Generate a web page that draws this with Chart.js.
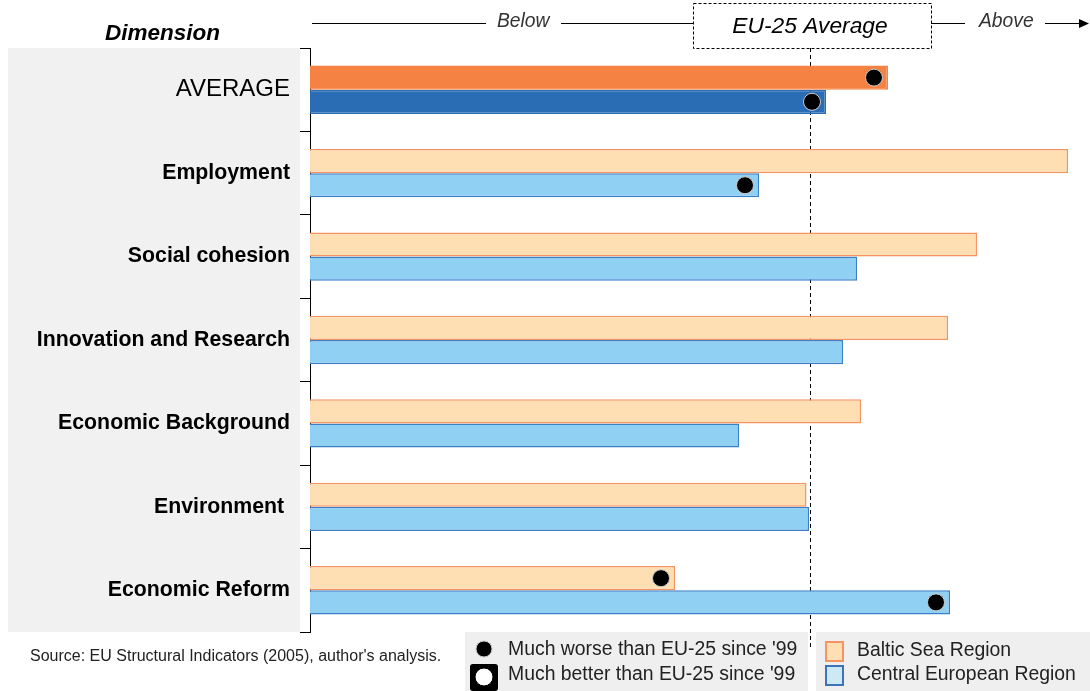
<!DOCTYPE html>
<html>
<head>
<meta charset="utf-8">
<script src="https://cdn.jsdelivr.net/npm/chart.js@4"></script>
<style>
  html, body { margin: 0; padding: 0; background: #fff; }
  #wrap { position: relative; width: 1090px; height: 691px; }
</style>
</head>
<body>
<div id="wrap"><canvas id="chart"></canvas></div>
<script>
// index values, EU-25 average = 100
const DIMENSIONS = ['AVERAGE', 'Employment', 'Social cohesion', 'Innovation and Research', 'Economic Background', 'Environment ', 'Economic Reform'];
const BALTIC = [115.6, 151.6, 133.4, 127.6, 110.2, 99.3, 73.0];
const CENTRAL = [103.2, 89.8, 109.4, 106.6, 85.8, 99.8, 128.0];
// trend since '99 vs EU-25 ('worse' / 'better' / null)
const BALTIC_TREND = ['worse', null, null, null, null, null, 'worse'];
const CENTRAL_TREND = ['worse', 'worse', null, null, null, null, 'worse'];
const EU_AVG = 100;
const X_MAX = 155;

const COL = {
  balticAvg: '#F58142', centralAvg: '#2B6DB5',
  balticFill: '#FDDFB3', balticLine: '#F59462',
  centralFill: '#8FD0F3', centralLine: '#3D7FC6',
};

const FONT = "'Liberation Sans', Arial, sans-serif";
Chart.defaults.font.family = FONT;

function drawDot(ctx, x, y, r, better) {
  ctx.beginPath();
  ctx.arc(x, y, r, 0, Math.PI * 2);
  ctx.fillStyle = better ? '#fff' : '#000';
  ctx.fill();
  ctx.lineWidth = 1;
  ctx.strokeStyle = better ? '#000' : '#ccc';
  ctx.stroke();
}

const decor = {
  id: 'decor',
  beforeDraw(chart) {
    const { ctx, chartArea: a } = chart;
    ctx.save();
    ctx.fillStyle = '#F1F1F1';
    ctx.fillRect(8, a.top, 292, a.bottom - a.top);
    ctx.restore();
  },
  beforeDatasetsDraw(chart) {
    const { ctx } = chart;
    const x = Math.round(chart.scales.x.getPixelForValue(EU_AVG)) + 0.5;
    ctx.save();
    ctx.strokeStyle = '#000';
    ctx.lineWidth = 1;
    ctx.setLineDash([4, 3]);
    ctx.beginPath();
    ctx.moveTo(x, 48);
    ctx.lineTo(x, 650);
    ctx.stroke();
    ctx.restore();
  },
  afterDatasetsDraw(chart) {
    const { ctx } = chart;
    [BALTIC_TREND, CENTRAL_TREND].forEach((trend, di) => {
      const meta = chart.getDatasetMeta(di);
      trend.forEach((t, i) => {
        if (!t) return;
        const bar = meta.data[i];
        drawDot(ctx, bar.x - 14, bar.y, 8.5, t === 'better');
      });
    });
  },
  afterDraw(chart) {
    const { ctx } = chart;
    const xAvg = chart.scales.x.getPixelForValue(EU_AVG);
    ctx.save();
    ctx.textBaseline = 'middle';

    // header
    ctx.fillStyle = '#000';
    ctx.font = `italic bold 22.5px ${FONT}`;
    ctx.textAlign = 'left';
    ctx.fillText('Dimension', 105, 34);

    ctx.strokeStyle = '#000';
    ctx.lineWidth = 1;
    const hy = 23.5;
    ctx.beginPath();
    ctx.moveTo(312, hy); ctx.lineTo(486, hy);
    ctx.moveTo(561, hy); ctx.lineTo(693, hy);
    ctx.moveTo(931, hy); ctx.lineTo(965, hy);
    ctx.moveTo(1045, hy); ctx.lineTo(1080, hy);
    ctx.stroke();
    ctx.beginPath();
    ctx.moveTo(1089, hy); ctx.lineTo(1079, hy - 4.5); ctx.lineTo(1079, hy + 4.5);
    ctx.closePath();
    ctx.fillStyle = '#000';
    ctx.fill();

    ctx.fillStyle = '#333';
    ctx.font = `italic 19.3px ${FONT}`;
    ctx.fillText('Below', 497, 22);
    ctx.fillText('Above', 979, 22);

    ctx.setLineDash([3, 2]);
    ctx.strokeRect(693.5, 3.5, 238, 45);
    ctx.setLineDash([]);
    ctx.fillStyle = '#000';
    ctx.font = `italic 22.8px ${FONT}`;
    ctx.textAlign = 'center';
    ctx.fillText('EU-25 Average', xAvg, 27);

    // source
    ctx.textAlign = 'left';
    ctx.fillStyle = '#222';
    ctx.font = `16px ${FONT}`;
    ctx.fillText("Source: EU Structural Indicators (2005), author's analysis.", 30, 657);

    // marker legend
    ctx.fillStyle = '#EFEFEF';
    ctx.fillRect(465, 632, 343, 59);
    drawDot(ctx, 484, 649, 8, false);
    ctx.fillStyle = '#000';
    ctx.beginPath();
    ctx.roundRect(470, 664, 28, 27, 3);
    ctx.fill();
    drawDot(ctx, 484, 677, 9, true);
    ctx.fillStyle = '#222';
    ctx.font = `19.4px ${FONT}`;
    ctx.fillText("Much worse than EU-25 since '99", 508, 650);
    ctx.fillText("Much better than EU-25 since '99", 508, 675);

    // region legend
    ctx.fillStyle = '#EFEFEF';
    ctx.fillRect(816, 632, 274, 59);
    ctx.lineWidth = 2;
    ctx.fillStyle = COL.balticFill;
    ctx.strokeStyle = COL.balticLine;
    ctx.fillRect(826, 642, 17, 19);
    ctx.strokeRect(826, 642, 17, 19);
    ctx.fillStyle = '#CDE9F6';
    ctx.strokeStyle = '#3D73B8';
    ctx.fillRect(826, 666, 17, 19);
    ctx.strokeRect(826, 666, 17, 19);
    ctx.fillStyle = '#222';
    ctx.fillText('Baltic Sea Region', 857, 651);
    ctx.fillText('Central European Region', 857, 675);
    ctx.restore();
  }
};

new Chart(document.getElementById('chart'), {
  type: 'bar',
  data: {
    labels: DIMENSIONS,
    datasets: [
      {
        label: 'Baltic Sea Region',
        data: BALTIC,
        backgroundColor: DIMENSIONS.map((d, i) => i === 0 ? COL.balticAvg : COL.balticFill),
        borderColor: DIMENSIONS.map((d, i) => i === 0 ? COL.balticAvg : COL.balticLine),
        borderWidth: 1.5,
      },
      {
        label: 'Central European Region',
        data: CENTRAL,
        backgroundColor: DIMENSIONS.map((d, i) => i === 0 ? COL.centralAvg : COL.centralFill),
        borderColor: DIMENSIONS.map((d, i) => i === 0 ? COL.centralAvg : COL.centralLine),
        borderWidth: 1.5,
      }
    ]
  },
  options: {
    indexAxis: 'y',
    responsive: true,
    maintainAspectRatio: false,
    animation: false,
    categoryPercentage: 0.58,
    barPercentage: 1.0,
    layout: { padding: { left: 0, right: 5, top: 48, bottom: 59 } },
    plugins: { legend: { display: false }, tooltip: { enabled: false } },
    scales: {
      x: { display: false, min: 0, max: X_MAX },
      y: {
        afterFit: s => { s.width = 310; },
        border: { display: true, color: '#000', width: 1 },
        grid: { drawOnChartArea: false, tickLength: 10, color: '#000', offset: true },
        ticks: {
          color: '#000',
          padding: 10,
          font: c => c.index === 0 ? { size: 24, weight: 'normal' } : { size: 21.3, weight: 'bold' },
        }
      }
    }
  },
  plugins: [decor]
});
</script>
</body>
</html>
